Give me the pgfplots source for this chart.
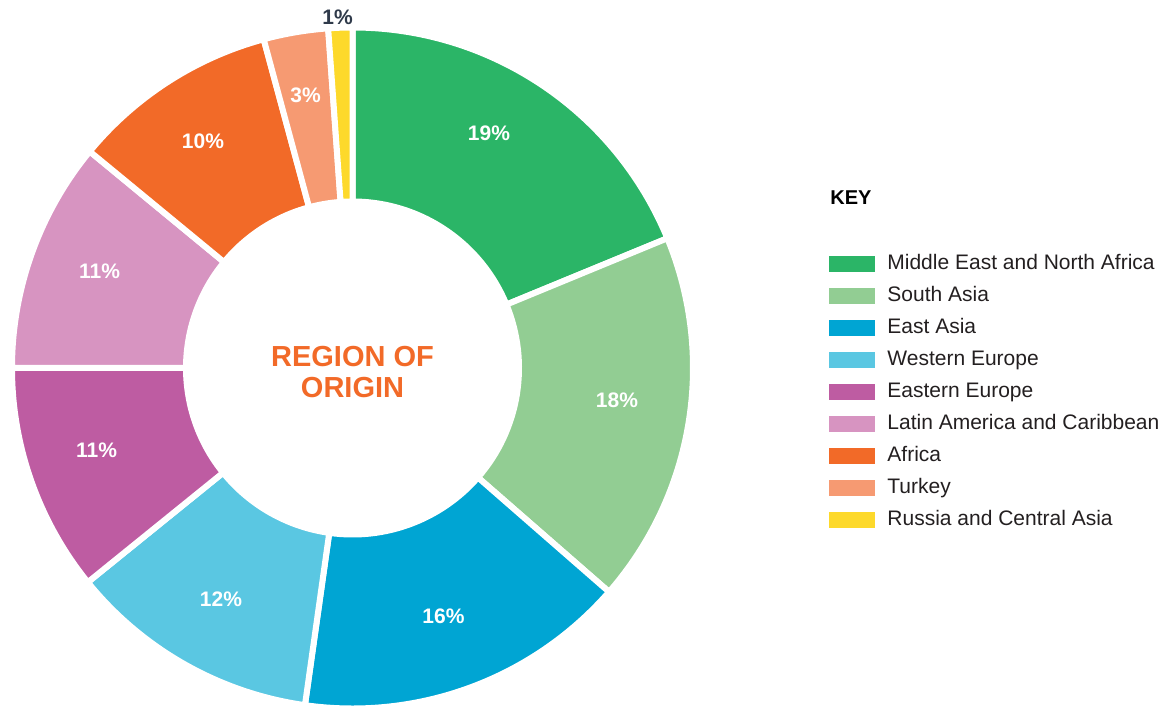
\documentclass[border=0pt]{standalone}
\usepackage{fontspec}
\setmainfont{Liberation Sans}
\usepackage{pgfplots}
\usepackage{pgfplotstable}
\pgfplotsset{compat=1.18}

\definecolor{cMENA}{HTML}{2BB567}
\definecolor{cSAsia}{HTML}{92CD93}
\definecolor{cEAsia}{HTML}{00A5D3}
\definecolor{cWEur}{HTML}{5AC7E2}
\definecolor{cEEur}{HTML}{BE5CA2}
\definecolor{cLatAm}{HTML}{D794C1}
\definecolor{cAfrica}{HTML}{F26A28}
\definecolor{cTurkey}{HTML}{F69A72}
\definecolor{cRussia}{HTML}{FDD92B}
\definecolor{labeldark}{HTML}{2F3A4A}
\definecolor{keytext}{HTML}{231F20}

% share = size of the slice as drawn, shown = printed percentage,
% lx, ly = where the printed label sits (px, y measured upwards)
\pgfplotstableread[col sep=comma]{
region,share,shown,colour,lx,ly,textcol
Middle East and North Africa,18.78,19,cMENA,489,572,white
South Asia,17.64,18,cSAsia,617,305,white
East Asia,15.81,16,cEAsia,443.5,89,white
Western Europe,11.94,12,cWEur,221,105.5,white
Eastern Europe,10.83,11,cEEur,96.5,254.5,white
Latin America and Caribbean,10.97,11,cLatAm,99.5,434,white
Africa,9.83,10,cAfrica,203,564,white
Turkey,3.06,3,cTurkey,305.5,609.5,white
Russia and Central Asia,1.14,1,cRussia,337.5,688,labeldark
}\regiontable

\begin{document}
\begin{tikzpicture}
\begin{axis}[
    x=0.5bp, y=0.5bp,
    xmin=0, xmax=1163, ymin=0, ymax=705,
    hide axis, clip=false,
    legend image code/.code={\fill[#1, draw=none] (0bp,-4bp) rectangle (23bp,4bp);},
    legend cell align=left,
    legend style={at={(axis cs:829,452)}, anchor=north west,
        draw=none, fill=none, inner sep=0pt,
        row sep=5.5bp, column sep=6bp,
        nodes={inner sep=0pt, text height=8bp, text depth=2.5bp},
        font=\fontsize{10.5bp}{12bp}\selectfont, text=keytext},
]
\pgfplotstablegetrowsof{\regiontable}
\pgfmathtruncatemacro\lastrow{\pgfplotsretval-1}
\def\startangle{90}
\pgfplotsforeachungrouped \i in {0,...,\lastrow}{%
    \pgfplotstablegetelem{\i}{region}\of\regiontable \let\name\pgfplotsretval
    \pgfplotstablegetelem{\i}{share}\of\regiontable \let\share\pgfplotsretval
    \pgfplotstablegetelem{\i}{shown}\of\regiontable \let\shown\pgfplotsretval
    \pgfplotstablegetelem{\i}{colour}\of\regiontable \let\col\pgfplotsretval
    \pgfplotstablegetelem{\i}{lx}\of\regiontable \let\lx\pgfplotsretval
    \pgfplotstablegetelem{\i}{ly}\of\regiontable \let\ly\pgfplotsretval
    \pgfplotstablegetelem{\i}{textcol}\of\regiontable \let\tcol\pgfplotsretval
    \pgfmathsetmacro\endangle{\startangle-3.6*\share}
    \edef\sector{%
        \noexpand\fill[\col, draw=white, line width=3bp, line join=miter]
        ([shift={(\startangle:170.25bp)}]axis cs:352.5,337)
        arc[start angle=\startangle, end angle=\endangle, radius=170.25bp]
        -- ([shift={(\endangle:83.25bp)}]axis cs:352.5,337)
        arc[start angle=\endangle, end angle=\startangle, radius=83.25bp]
        -- cycle;
        \noexpand\addlegendimage{fill=\col}
        \noexpand\addlegendentry{\name}
    }%
    \sector
    \let\startangle\endangle
}
% slice labels on top of all slices
\pgfplotsforeachungrouped \i in {0,...,\lastrow}{%
    \pgfplotstablegetelem{\i}{shown}\of\regiontable \let\shown\pgfplotsretval
    \pgfplotstablegetelem{\i}{lx}\of\regiontable \let\lx\pgfplotsretval
    \pgfplotstablegetelem{\i}{ly}\of\regiontable \let\ly\pgfplotsretval
    \pgfplotstablegetelem{\i}{textcol}\of\regiontable \let\tcol\pgfplotsretval
    \edef\slicelabel{%
        \noexpand\node[text=\tcol, inner sep=0pt,
            font=\noexpand\bfseries\noexpand\fontsize{10.5bp}{12bp}\noexpand\selectfont]
        at (axis cs:\lx,\ly) {\shown\noexpand\%};
    }%
    \slicelabel
}
\node[text=cAfrica, align=center, font=\bfseries\fontsize{14.5bp}{15.5bp}\selectfont]
    at (axis cs:352.5,333) {REGION OF\\ORIGIN};
\node[anchor=west, inner sep=0pt, text=black, font=\bfseries\fontsize{10bp}{12bp}\selectfont]
    at (axis cs:830,507) {KEY};
\end{axis}
\pgfresetboundingbox
\path[use as bounding box] (current axis.south west) rectangle (current axis.north east);
\end{tikzpicture}
\end{document}
